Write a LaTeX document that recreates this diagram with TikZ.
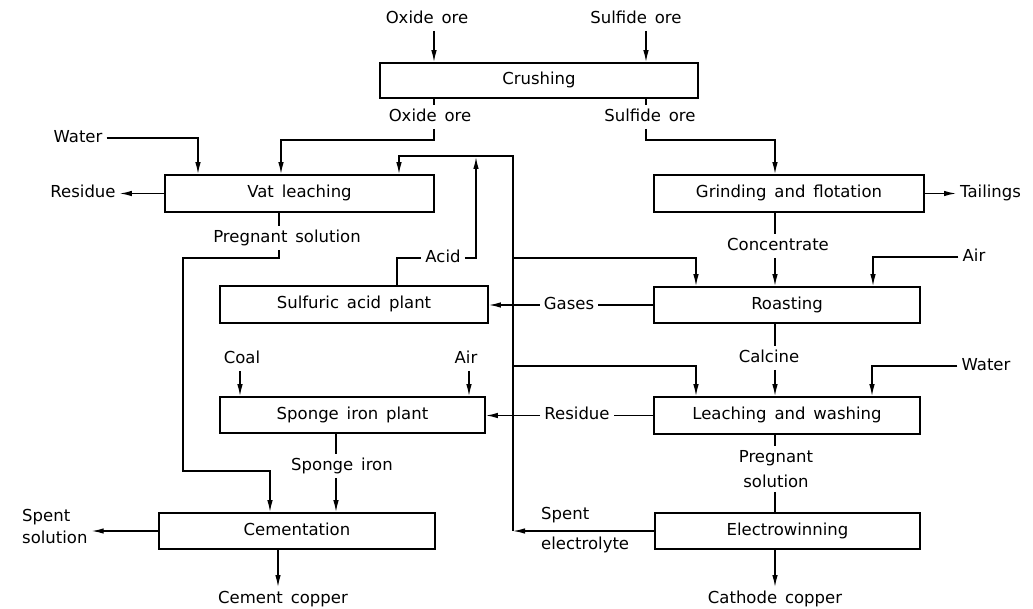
\documentclass[tikz,border=0pt]{standalone}
\usepackage{fontspec}
\setmainfont{DejaVu Sans}[WordSpace=1.5]
\usetikzlibrary{arrows.meta}
\begin{document}
\begin{tikzpicture}[x=1pt,y=-1pt,
  font=\fontsize{16.5}{24}\selectfont,
  box/.style={draw,line width=1.7pt,minimum height=36pt,inner sep=0pt,text height=12pt,text depth=3.5pt},
  lbl/.style={inner sep=4pt,text height=12pt,text depth=3.5pt},
  ln/.style={line width=1.3pt},
  arr/.style={line width=1.3pt,-{Latex[length=12pt,width=5.5pt]}}]
\useasboundingbox (0,0) rectangle (1033,609);
% boxes
\node[box,minimum width=318pt,minimum height=35pt] (crush) at (539,80.5) {Crushing};
\node[box,minimum width=269pt,minimum height=37pt] (vat) at (299.5,193.5) {Vat leaching};
\node[box,minimum width=270pt,minimum height=37pt] (grind) at (789,193.5) {Grinding and flotation};
\node[box,minimum width=268pt,minimum height=37pt] (acid) at (354,304.5) {Sulfuric acid plant};
\node[box,minimum width=266pt] (roast) at (787,305) {Roasting};
\node[box,minimum width=265pt] (sponge) at (352.5,415) {Sponge iron plant};
\node[box,minimum width=266pt,minimum height=37pt] (leach) at (787,415.5) {Leaching and washing};
\node[box,minimum width=276pt] (cement) at (297,531) {Cementation};
\node[box,minimum width=265pt] (elec) at (787.5,531) {Electrowinning};
% labels
\node[lbl] (oxin) at (427,19) {Oxide ore};
\node[lbl] (sulin) at (636,19) {Sulfide ore};
\node[lbl] (oxout) at (430,117) {Oxide ore};
\node[lbl] (sulout) at (650,117) {Sulfide ore};
\node[lbl] (water1) at (78,138) {Water};
\node[lbl] (res1) at (83,193.5) {Residue};
\node[lbl] (preg1) at (287,238) {Pregnant solution};
\node[lbl] (acidl) at (443,258) {Acid};
\node[lbl] (coal) at (242,359) {Coal};
\node[lbl] (air1) at (466,359) {Air};
\node[lbl] (spiron) at (342,466) {Sponge iron};
\node[lbl,align=left,anchor=west,font=\fontsize{16.5}{22}\selectfont,text height=,text depth=] (spsol) at (18,526) {Spent\\solution};
\node[lbl] (cemcu) at (283,599) {Cement copper};
\node[lbl,anchor=west] (tail) at (956,193.5) {Tailings};
\node[lbl] (conc) at (778,246) {Concentrate};
\node[lbl] (air2) at (974,257) {Air};
\node[lbl] (gases) at (569,305) {Gases};
\node[lbl] (calc) at (769,358) {Calcine};
\node[lbl] (water2) at (986,366) {Water};
\node[lbl] (res2) at (577,415.5) {Residue};
\node[lbl,align=center,font=\fontsize{16.5}{25}\selectfont,text height=,text depth=] (preg2) at (776,469) {Pregnant\\solution};
\node[lbl,anchor=west] (spent) at (537,515) {Spent};
\node[lbl,anchor=west] (electro) at (537,545) {electrolyte};
\node[lbl] (cathcu) at (775,599) {Cathode copper};
% connectors
\draw[arr] (oxin.south -| 434,0) -- (crush.north -| 434,0);
\draw[arr] (sulin.south -| 646,0) -- (crush.north -| 646,0);
\draw[ln] (crush.south -| 434,0) -- (oxout.north -| 434,0);
\draw[arr] (oxout.south -| 434,0) |- (281,140) -- (vat.north -| 281,0);
\draw[arr] (water1.east) -| (vat.north -| 198,0);
\draw[arr] (vat.west) -- (res1.east);
\draw[ln] (vat.south -| 279,0) -- (preg1.north -| 279,0);
\draw[arr] (preg1.south -| 279,0) |- (183,258) |- (270,471) -- (cement.north -| 270,0);
\draw[ln] (acid.north -| 397,0) |- (acidl.west);
\draw[arr] (acidl.east) -| (476,157);
\coordinate (rec) at (513,531);
\draw[arr] (elec.west) -- (rec);
\draw[arr] (rec) -- (513,156) -| (vat.north -| 399,0);
\draw[arr] (513,258) -| (roast.north -| 696,0);
\draw[arr] (513,366) -| (leach.north -| 696,0);
\draw[ln] (crush.south -| 646,0) -- (sulout.north -| 646,0);
\draw[arr] (sulout.south -| 646,0) |- (775,140) -- (grind.north -| 775,0);
\draw[arr] (grind.east) -- (tail.west);
\draw[ln] (grind.south -| 775,0) -- (conc.north -| 775,0);
\draw[arr] (conc.south -| 775,0) -- (roast.north -| 775,0);
\draw[arr] (air2.west) -| (roast.north -| 873,0);
\draw[ln] (roast.west) -- (gases.east);
\draw[arr] (gases.west) -- (acid.east |- gases.west);
\draw[ln] (roast.south -| 775,0) -- (calc.north -| 775,0);
\draw[arr] (calc.south -| 775,0) -- (leach.north -| 775,0);
\draw[arr] (water2.west) -| (leach.north -| 872,0);
\draw[ln] (leach.west) -- (res2.east);
\draw[arr] (res2.west) -- (sponge.east |- res2.west);
\draw[ln] (leach.south -| 775,0) -- (preg2.north -| 775,0);
\draw[ln] (preg2.south -| 775,0) -- (elec.north -| 775,0);
\draw[arr] (elec.south -| 775,0) -- (cathcu.north -| 775,0);
\draw[arr] (cement.south -| 278,0) -- (cemcu.north -| 278,0);
\draw[arr] (cement.west) -- (spsol.east |- cement.west);
\draw[ln] (sponge.south -| 336,0) -- (spiron.north -| 336,0);
\draw[arr] (spiron.south -| 336,0) -- (cement.north -| 336,0);
\draw[arr] (coal.south -| 240,0) -- (sponge.north -| 240,0);
\draw[arr] (air1.south -| 469,0) -- (sponge.north -| 469,0);
\end{tikzpicture}
\end{document}
